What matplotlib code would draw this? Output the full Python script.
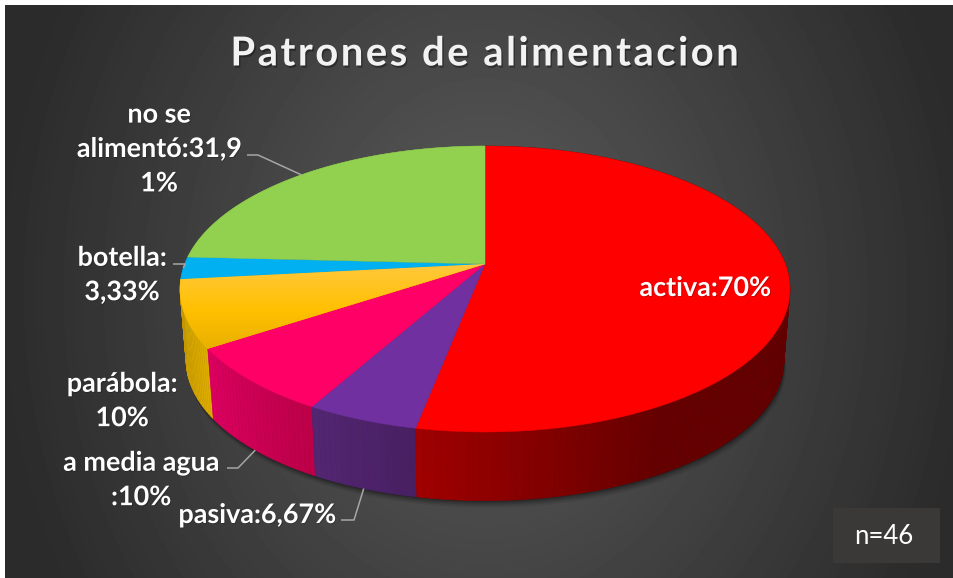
import numpy as np
import matplotlib
matplotlib.use('Agg')
import matplotlib.pyplot as plt
import matplotlib.patheffects as pe
from matplotlib.colors import to_rgb

plt.rcParams['font.family'] = ['Lato', 'DejaVu Sans']

# chart data
categories = ['activa', 'pasiva', 'a media agua', 'parábola', 'botella', 'no se alimentó']
values = [70, 6.67, 10, 10, 3.33, 31.91]
labels = ['activa:70%', 'pasiva:6,67%', 'a media agua\n:10%', 'parábola:\n10%',
          'botella:\n3,33%', 'no se\nalimentó:31,9\n1%']
colors = ['#ff0000', '#7030a0', '#ff0066', '#ffc000', '#00b0f0', '#92d050']
title = 'Patrones de alimentacion'
note = 'n=46'

# pie projection, pixels of the picture
cx, cy = 485, 264
k = 0.175      # perspective
A, B = 138.6, 300.3
depth, rim_scale = 72, 0.98

W, H = 954, 578


def top_rim(t):
    # t in degrees, clockwise from 12 o'clock
    r = np.radians(t)
    u, v = np.sin(r), -np.cos(r)
    return cx + B * u / (1 - k * v), cy + A * v / (1 - k * v)


def low_rim(t):
    x, y = top_rim(t)
    return cx + (x - cx) * rim_scale, cy + depth + (y - cy) * rim_scale


fig = plt.figure(figsize=(W / 100, H / 100), dpi=100, facecolor='white')
ax = fig.add_axes([0, 0, 1, 1])
ax.set_xlim(0, W)
ax.set_ylim(H, 0)
ax.axis('off')

# background
left, top, right, bottom = 5, 5, W, H
xx, yy = np.meshgrid(np.arange(left, right), np.arange(top, bottom))
rr = np.clip(np.sqrt(((xx - 485) / 490) ** 2 + ((yy - 290) / 600) ** 2), 0, 1)
bg = 0x5c - (0x5c - 0x2b) * rr
ax.imshow(bg, extent=[left, right, bottom, top], cmap='gray', vmin=0, vmax=255,
          aspect='auto', zorder=0, interpolation='bilinear')
ax.set_xlim(0, W)
ax.set_ylim(H, 0)

# blurred shadow under the pie
tt = np.linspace(0, 360, 361)
for off, al in zip([7, 5.5, 4, 2.5, 1], [0.06, 0.08, 0.1, 0.14, 0.2]):
    sx, sy = low_rim(tt)
    ax.fill(sx + off * 0.3, sy + off, color='black', alpha=al, lw=0, zorder=1)

# slice angles come from the values
ends = np.cumsum(values) / np.sum(values) * 360
starts = np.concatenate([[0], ends[:-1]])
mids = (starts + ends) / 2

side_shades = {
    0: [(191, '#a00000'), (150, '#640000'), (0, '#620000')],
    1: [(209.2, '#532672'), (191, '#481f62')],
    2: [(236.5, '#dd0060'), (209.2, '#bc0048')],
    3: [(263.8, '#c49600'), (236.5, '#dead00')],
    4: [(273, '#0080b0'), (263.8, '#0080b0')],
    5: [(360, '#6a9a3a'), (273, '#6a9a3a')],
}

# side wall, thin strips so the shade can change along it
# back slices first so the front ones cover them
for i in reversed(range(len(values))):
    pts = sorted(side_shades[i])
    ts = [p[0] for p in pts]
    rgb = np.array([to_rgb(p[1]) for p in pts])
    grid = np.arange(starts[i], ends[i] + 0.01, 1.0)
    if grid[-1] < ends[i]:
        grid = np.append(grid, ends[i])
    for a, b in zip(grid[:-1], grid[1:]):
        c = [np.interp((a + b) / 2, ts, rgb[:, j]) for j in range(3)]
        x1, y1 = top_rim(np.array([a, b]))
        x2, y2 = low_rim(np.array([b, a]))
        ax.fill(np.r_[x1, x2], np.r_[y1, y2], facecolor=c, edgecolor=c, lw=0.4, zorder=2)

# top faces
for i in range(len(values)):
    t = np.linspace(starts[i], ends[i], 200)
    x, y = top_rim(t)
    px = np.r_[cx, x]
    py = np.r_[cy, y]
    poly = ax.fill(px, py, color=colors[i], lw=0.3, zorder=3)[0]
    if categories[i] == 'parábola':
        # this slice has a soft light band on top
        grad = np.linspace(0, 1, 100).reshape(-1, 1)
        c0, c1, c2 = [np.array(to_rgb(c)) for c in ('#ffc83c', '#ffc000', '#e9b000')]
        img = np.where(grad[..., None] < 0.55,
                       c0 + (c1 - c0) * grad[..., None] / 0.55,
                       c1 + (c2 - c1) * (grad[..., None] - 0.55) / 0.45)
        im = ax.imshow(img, extent=[px.min(), px.max(), py.max(), py.min()],
                       aspect='auto', zorder=3.1)
        im.set_clip_path(poly)
ax.set_xlim(0, W)
ax.set_ylim(H, 0)

# leader lines end on the rim at the slice middle
leader_col = '#a6a6a6'
leaders = {
    5: ((247, 155), (258, 155), top_rim),
    4: ((173, 264), (185, 264), top_rim),
    2: ((227, 468), (238, 468), low_rim),
    1: ((341, 520), (354, 520), low_rim),
}
for i, (p0, p1, rim) in leaders.items():
    ex, ey = rim(mids[i])
    ax.plot([p0[0], p1[0], ex], [p0[1], p1[1], ey], color=leader_col, lw=1.1, zorder=4,
            solid_capstyle='butt')

# data labels
label_pos = [(705, 288), (257, 515), (141, 480), (122, 401), (122, 275), (159, 149)]
soft = [pe.withSimplePatchShadow(offset=(0.6, -0.6), shadow_rgbFace='black', alpha=0.25)]
for s, (x, y) in zip(labels, label_pos):
    ax.text(x, y, s, color='white', fontsize=19.4, fontweight='bold', ha='center',
            va='center', ma='center', linespacing=1.52, zorder=5, path_effects=soft)

# title, hair spaces for the wide tracking
spaced = '\u200a'.join(title)
ax.text(485, 54, spaced, color='#f2f2f2', fontsize=28.8, fontweight='bold', ha='center',
        va='center', zorder=5,
        path_effects=[pe.withSimplePatchShadow(offset=(1, -1.5), shadow_rgbFace='black', alpha=0.35)])

# note box
ax.add_patch(plt.Rectangle((833, 508), 107, 55, facecolor='#3a3937', edgecolor='none', zorder=5))
ax.text(884, 536, note, color='white', fontsize=18.5, ha='center', va='center', zorder=6)

fig.savefig('out.png', dpi=100, facecolor='white')
